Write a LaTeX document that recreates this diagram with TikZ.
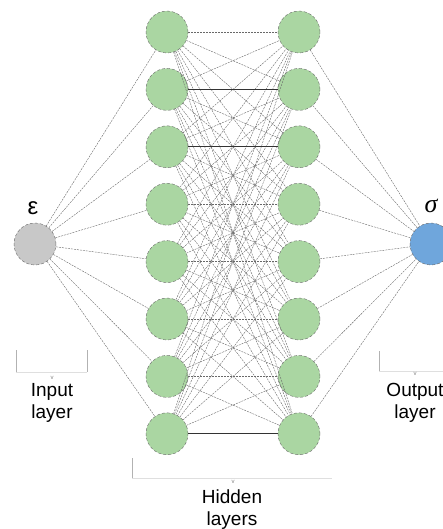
\documentclass[tikz,border=0pt]{standalone}
\usepackage{fontspec}
\setmainfont{Liberation Sans}
\newfontfamily\serifgreek{Liberation Serif}
\definecolor{nodegreen}{RGB}{170,214,162}
\definecolor{nodeblue}{RGB}{111,166,220}
\definecolor{nodegrey}{RGB}{200,200,200}
\definecolor{edgegrey}{RGB}{105,105,105}
\begin{document}
\begin{tikzpicture}[x=1pt,y=-1pt,
  neuron/.style={circle, minimum size=42pt, inner sep=0pt, draw=edgegrey, densely dashed, line width=0.4pt},
  hid/.style={neuron, fill=nodegreen},
  conn/.style={draw=edgegrey, line width=0.4pt, dash pattern=on 2pt off 1pt},
  strong/.style={draw=black!80, line width=0.9pt},
  lbl/.style={align=center, font=\fontsize{19}{22}\selectfont, inner sep=0pt},
  sym/.style={font=\fontsize{24}{26}\selectfont, inner sep=0pt},
  brk/.style={draw=gray!60, line width=0.5pt},
  brkfaint/.style={draw=gray!25, line width=0.4pt},
  tick/.style={font=\fontsize{6}{6}\selectfont, text=gray, inner sep=0pt}
]
\useasboundingbox (0,0) rectangle (443,529);

% nodes
\node[neuron, fill=nodegrey] (in) at (35,244) {};
\node[neuron, fill=nodeblue] (out) at (431,244) {};
\foreach \i in {1,...,8} {
  \node[hid] (l\i) at (167,{32+57.4*(\i-1)}) {};
  \node[hid] (r\i) at (299,{32+57.4*(\i-1)}) {};
}

% connections
\foreach \i in {1,...,8} {
  \draw[conn] (in) -- (l\i);
  \draw[conn] (r\i) -- (out);
  \foreach \j in {1,...,8} {
    \ifnum\i=\j\else
      \draw[conn] (l\i) -- (r\j);
    \fi
  }
}
\foreach \i in {1,4,5,6,7} { \draw[conn] (l\i) -- (r\i); }
\foreach \i in {2,3,8} { \draw[strong] (l\i) -- (r\i); }

% symbols
\node[sym] (eps) at (33,208) {ε};
\node[font=\serifgreek\itshape\fontsize{26}{26}\selectfont, inner sep=0pt] (sig) at (431,206) {σ};

% brackets
\draw[brk] (16,350) -- (16,372);
\draw[brk] (87,350) -- (87,372);
\draw[brkfaint] (16,372) -- (87,372);
\node[tick] (tin) at (52,378) {v};

\draw[brk] (379,351) -- (379,371);
\draw[brkfaint] (379,371) -- (443,371);
\node[tick] (tout) at (415,374) {v};

\draw[brk] (132,458) -- (132,478);
\draw[brkfaint] (132,478) -- (332,478);
\node[tick] (thid) at (233,482) {v};

% labels
\node[lbl] (inlbl) at (52,403) {Input\\layer};
\node[lbl] (outlbl) at (415,403) {Output\\layer};
\node[lbl] (hidlbl) at (232,510) {Hidden\\layers};
\end{tikzpicture}
\end{document}
